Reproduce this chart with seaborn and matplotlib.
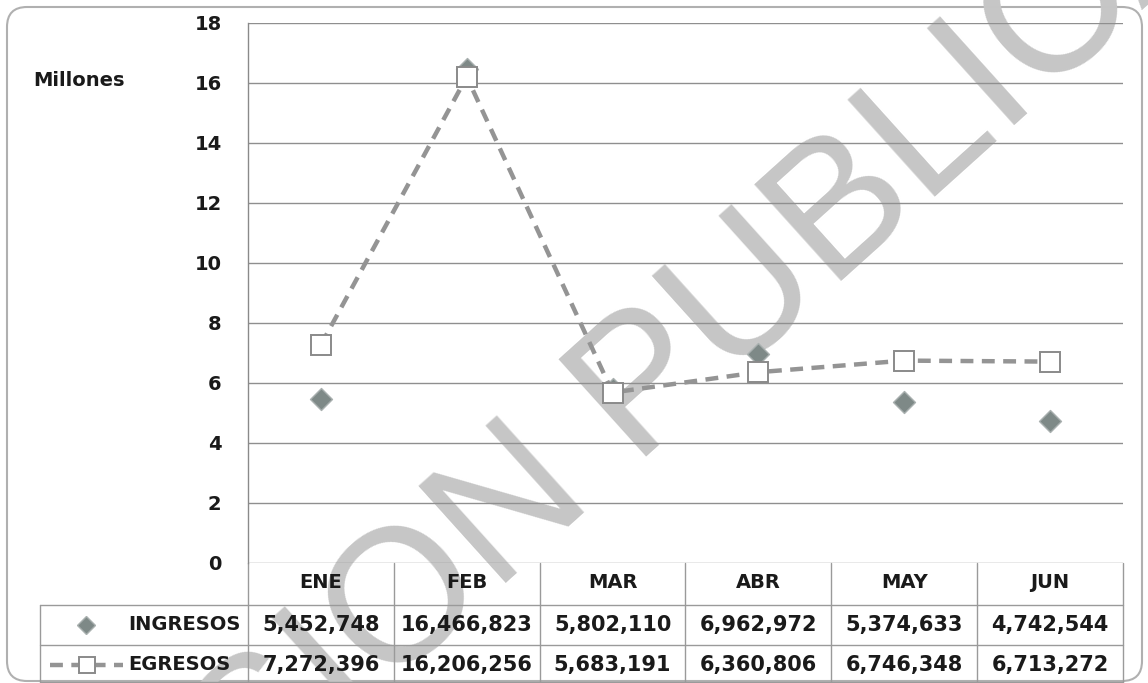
import numpy as np
import pandas as pd
import matplotlib
matplotlib.use("Agg")
import matplotlib.pyplot as plt
import matplotlib.transforms as mtransforms
from matplotlib.patches import FancyBboxPatch
import seaborn as sns

# ---- data ----
meses = ["ENE", "FEB", "MAR", "ABR", "MAY", "JUN"]
ingresos = [5452748, 16466823, 5802110, 6962972, 5374633, 4742544]
egresos = [7272396, 16206256, 5683191, 6360806, 6746348, 6713272]
series_names = ["INGRESOS", "EGRESOS"]
y_ticks = [0, 2, 4, 6, 8, 10, 12, 14, 16, 18]
unit_label = "Millones"
watermark = "VERSION PUBLICA"

sns.set_style("white")
plt.rcParams["font.family"] = ["DejaVu Sans"]

W, H = 1148, 683
fig = plt.figure(figsize=(W / 100, H / 100), dpi=100)
fig.patch.set_facecolor("white")

# axes placement (pixels)
x0, x1, ytop, ybot = 248, 1123, 23, 563
ax = fig.add_axes([x0 / W, (H - ybot) / H, (x1 - x0) / W, (ybot - ytop) / H])
ax.patch.set_alpha(0)

df = pd.DataFrame({
    "pos": np.arange(len(meses)),
    "mes": meses,
    "INGRESOS": np.array(ingresos) / 1e6,
    "EGRESOS": np.array(egresos) / 1e6,
})

dia_face, dia_edge = "#7e8987", "#a9b0af"
sq_edge, line_col = "#8a8a8a", "#949494"
dash = (0, (2.9, 1.9))

sns.scatterplot(data=df, x="pos", y="INGRESOS", marker="D", s=125,
                color=dia_face, edgecolor=dia_edge, linewidth=1.0,
                zorder=3, ax=ax, legend=False)
sns.lineplot(data=df, x="pos", y="EGRESOS", sort=False, ax=ax,
             color=line_col, linewidth=3.2, linestyle=dash,
             marker="s", markersize=14.5, markerfacecolor="white",
             markeredgecolor=sq_edge, markeredgewidth=1.4, zorder=4,
             legend=False)

ax.set_xlim(-0.5, len(meses) - 0.5)
ax.set_ylim(0, 18)
ax.set_yticks(y_ticks)
ax.set_yticklabels([str(t) for t in y_ticks])
ax.set_xticks([])
ax.set_xlabel("")
ax.set_ylabel("")
ax.yaxis.grid(True, color="#8f8f8f", linewidth=1.0)
ax.set_axisbelow(True)
for s in ["top", "right", "bottom"]:
    ax.spines[s].set_visible(False)
ax.spines["left"].set_color("#8a8a8a")
ax.spines["left"].set_linewidth(1.0)
ax.tick_params(axis="y", length=6, width=1.0, color="#8f8f8f", pad=13,
               labelsize=14, labelcolor="#1a1a1a")
for lab in ax.get_yticklabels():
    lab.set_fontweight("bold")

fig.text(33 / W, 1 - 80 / H, unit_label, ha="left", va="center",
         fontsize=14, fontweight="bold", color="#1a1a1a")

# ---- data table below the plot ----
tr = mtransforms.blended_transform_factory(ax.transData, ax.transAxes)
colw = (x1 - x0) / len(meses)
def px2x(px):
    return (px - x0) / colw - 0.5
def py2y(py):
    return (ybot - py) / (ybot - ytop)

r1, r2, r3 = py2y(605), py2y(645), py2y(682)
left_x = px2x(40)
tcol = "#9a9a9a"
lkw = dict(transform=tr, clip_on=False, color=tcol, linewidth=1.0)
for k in range(len(meses) + 1):
    ax.plot([k - 0.5, k - 0.5], [0, r3], **lkw)
ax.plot([left_x, left_x], [r1, r3], **lkw)
for yy in (r1, r2, r3):
    ax.plot([left_x, len(meses) - 0.5], [yy, yy], **lkw)

tkw = dict(transform=tr, clip_on=False, ha="center", va="center",
           fontweight="bold", color="#1a1a1a")
for i, m in enumerate(meses):
    ax.text(i, py2y(583), m, fontsize=14, **tkw)
    ax.text(i, py2y(625), f"{ingresos[i]:,}", fontsize=15, **tkw)
    ax.text(i, py2y(665), f"{egresos[i]:,}", fontsize=15, **tkw)

name_x = px2x(128)
ax.text(name_x, py2y(625), series_names[0], transform=tr, clip_on=False,
        ha="left", va="center", fontsize=14, fontweight="bold", color="#1a1a1a")
ax.text(name_x, py2y(665), series_names[1], transform=tr, clip_on=False,
        ha="left", va="center", fontsize=14, fontweight="bold", color="#1a1a1a")

# legend keys
ax.plot([px2x(86)], [py2y(625)], marker="D", markersize=9,
        markerfacecolor=dia_face, markeredgecolor=dia_edge, linestyle="none",
        transform=tr, clip_on=False)
ax.plot([px2x(50), px2x(123)], [py2y(665), py2y(665)], color=line_col,
        linewidth=3.2, linestyle=dash, transform=tr, clip_on=False)
ax.plot([px2x(87)], [py2y(665)], marker="s", markersize=12,
        markerfacecolor="white", markeredgecolor=sq_edge, markeredgewidth=1.4,
        linestyle="none", transform=tr, clip_on=False)

# rounded outer border
box = FancyBboxPatch((0.07, 0.02), 11.35, 6.74,
                     boxstyle="round,pad=0,rounding_size=0.2",
                     transform=fig.dpi_scale_trans, facecolor="none",
                     edgecolor="#b0b0b0", linewidth=1.5, zorder=-2)
fig.patches.append(box)

# watermark (under everything), baseline starts off-canvas at lower left
fig.text(-35 / W, 1 - 1071 / H, watermark, rotation=42, rotation_mode="anchor",
         ha="left", va="baseline", fontsize=136,
         family=["Liberation Sans", "DejaVu Sans"], color="#c6c6c6", zorder=-1)

fig.savefig("out.png", dpi=100)
